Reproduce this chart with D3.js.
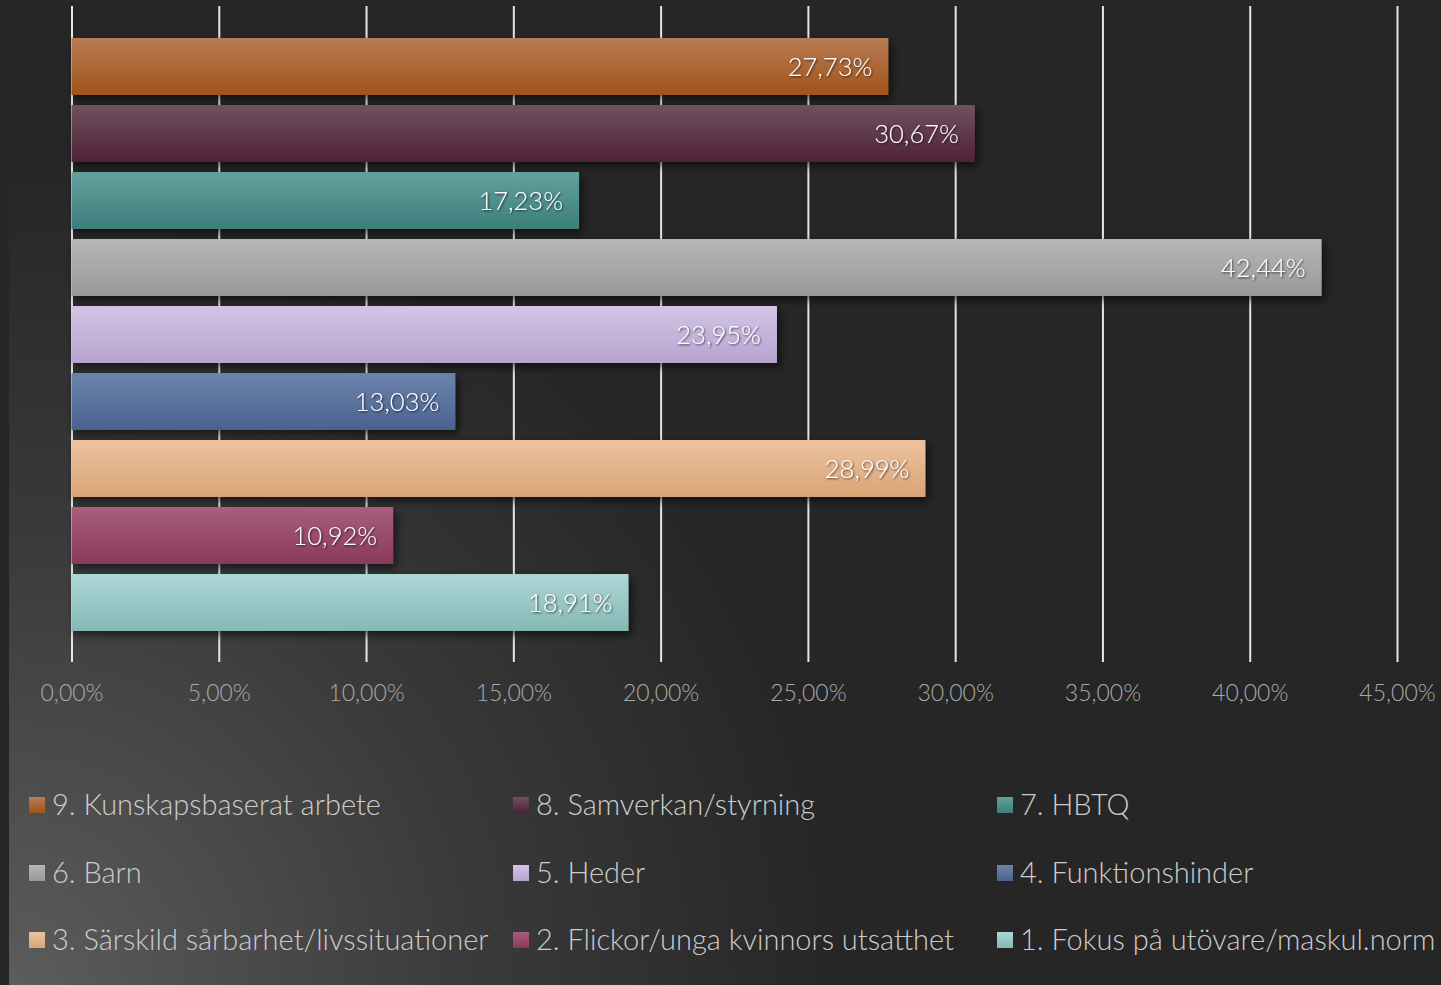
<!DOCTYPE html>
<html>
<head>
<meta charset="utf-8">
<script src="https://cdn.jsdelivr.net/npm/d3@7"></script>
<style>
  html,body{margin:0;padding:0;background:#262626;overflow:hidden}
  svg{display:block}
  .tick text{font-family:Lato,"Open Sans",sans-serif;font-weight:300;font-size:23px;fill:#aaaaaa}
  .lbl{font-family:Lato,"Open Sans",sans-serif;font-weight:300;font-size:25.5px;fill:#ffffff}
  .leg{font-family:Lato,"Open Sans",sans-serif;font-weight:300;font-size:29px;fill:#cccccc}
</style>
</head>
<body>
<svg id="chart" width="1441" height="985"></svg>
<script>
/* ===== Data ===== */
const categories = ['9. Kunskapsbaserat arbete','8. Samverkan/styrning','7. HBTQ','6. Barn','5. Heder',
  '4. Funktionshinder','3. Särskild sårbarhet/livssituationer','2. Flickor/unga kvinnors utsatthet','1. Fokus på utövare/maskul.norm'];
const values = [27.73, 30.67, 17.23, 42.44, 23.95, 13.03, 28.99, 10.92, 18.91];
const xTicks = [0,5,10,15,20,25,30,35,40,45];
const topColors = ['#b97c54','#715060','#64a09e','#b6b6b6','#d3c5e5','#6c84ab','#ecc29f','#a95e7d','#abd7d5'];
const botColors = ['#a0541a','#4f2236','#3b7f7b','#999999','#b6a3cf','#4a6290','#d9a576','#893a5a','#86b8b5'];

/* ===== Setup ===== */
const svg = d3.select('#chart');
const fmtPct = v => v.toFixed(2).replace('.', ',') + '%';
const defs = svg.append('defs');

// background glow bottom-left
const bg = defs.append('radialGradient').attr('id','bgGlow').attr('gradientUnits','userSpaceOnUse')
  .attr('cx',20).attr('cy',985).attr('r',820);
bg.append('stop').attr('offset',0).attr('stop-color','#5c5c5c');
bg.append('stop').attr('offset',0.55).attr('stop-color','#3a3a3a');
bg.append('stop').attr('offset',1).attr('stop-color','#262626');
svg.append('rect').attr('width',1441).attr('height',985).attr('fill','#262626');
svg.append('rect').attr('width',1441).attr('height',985).attr('fill','url(#bgGlow)');
svg.append('rect').attr('width',9).attr('height',985).attr('fill','#252726');

const shadow = defs.append('filter').attr('id','shadow').attr('x','-5%').attr('y','-20%').attr('width','110%').attr('height','160%');
shadow.append('feDropShadow').attr('dx',3).attr('dy',4).attr('stdDeviation',4).attr('flood-color','#000').attr('flood-opacity',0.6);
const tshadow = defs.append('filter').attr('id','tshadow');
tshadow.append('feDropShadow').attr('dx',1).attr('dy',1).attr('stdDeviation',0.8).attr('flood-color','#000').attr('flood-opacity',0.7);

values.forEach((v,i)=>{
  const g = defs.append('linearGradient').attr('id','grad'+i).attr('x1',0).attr('y1',0).attr('x2',0).attr('y2',1);
  g.append('stop').attr('offset',0).attr('stop-color',topColors[i]);
  g.append('stop').attr('offset',1).attr('stop-color',botColors[i]);
});

/* ===== Scales & axis ===== */
const x = d3.scaleLinear().domain([0,45]).range([71.5,1397]);
const y = d3.scaleBand().domain(categories).range([33,636]).paddingInner(0.15).paddingOuter(0.075);

const axis = svg.append('g').attr('transform','translate(0,662)')
  .call(d3.axisBottom(x).tickValues(xTicks).tickSize(656).tickPadding(0).tickFormat(d=>fmtPct(d)));
axis.select('.domain').remove();
axis.selectAll('.tick line').attr('stroke','#e6e6e6').attr('stroke-width',2).attr('y2',-656);
axis.selectAll('.tick text').attr('y',23).attr('dy','0.71em');

/* ===== Bars ===== */
const bars = svg.append('g').selectAll('g').data(values).join('g');
bars.append('rect')
  .attr('x',x(0)).attr('y',(d,i)=>y(categories[i]))
  .attr('width',d=>x(d)-x(0)).attr('height',y.bandwidth())
  .attr('fill',(d,i)=>`url(#grad${i})`).attr('filter','url(#shadow)');
bars.append('text').attr('class','lbl')
  .attr('x',d=>x(d)-16).attr('y',(d,i)=>y(categories[i])+y.bandwidth()/2)
  .attr('dy','0.36em').attr('text-anchor','end').attr('filter','url(#tshadow)')
  .text(d=>fmtPct(d));

/* ===== Legend ===== */
const legX = [29,513,997], legY = [805,873,940];
const leg = svg.append('g').selectAll('g').data(categories).join('g')
  .attr('transform',(d,i)=>`translate(${legX[i%3]},${legY[Math.floor(i/3)]})`);
leg.append('rect').attr('x',0).attr('y',-8).attr('width',16).attr('height',16)
  .attr('fill',(d,i)=>`url(#grad${i})`);
leg.append('text').attr('class','leg').attr('x',23).attr('dy','0.36em').text(d=>d);
</script>
</body>
</html>
